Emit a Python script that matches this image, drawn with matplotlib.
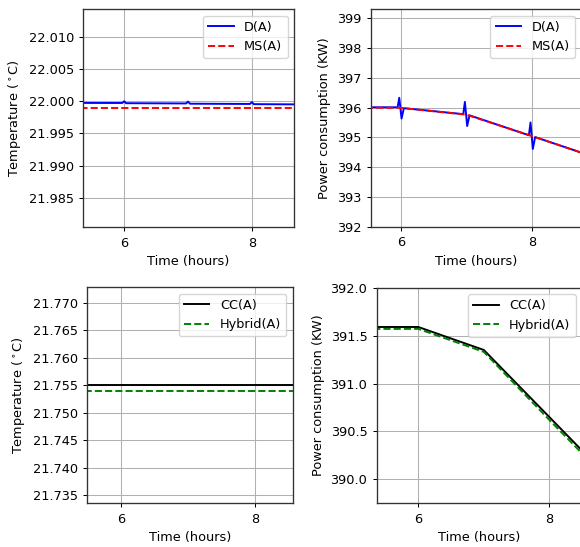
import matplotlib
matplotlib.use("Agg")
import matplotlib.pyplot as plt

# ---- data ----
ms_time = [5.0, 6.0, 7.0, 8.0, 9.0]
ms_temp = [21.9990, 21.9990, 21.9990, 21.9990, 21.9990]
ms_power = [396.00, 395.99, 395.76, 395.04, 394.30]

d_temp_time = [5.0, 5.97, 6.0, 6.03, 6.97, 7.0, 7.03, 7.97, 8.0, 8.03, 9.0]
d_temp = [21.99975, 21.99973, 22.00000, 21.99970, 21.99966, 21.99995, 21.99962,
          21.99958, 21.99987, 21.99955, 21.99950]

d_power_time = [5.0, 5.95, 5.975, 6.01, 6.045, 6.95, 6.975, 7.01, 7.045,
                7.95, 7.975, 8.01, 8.045, 9.0]
d_power = [396.01, 396.01, 396.33, 395.63, 395.98, 395.78, 396.19, 395.38, 395.74,
           395.07, 395.50, 394.61, 395.01, 394.30]

cc_time = [5.0, 6.0, 7.0, 8.0, 9.0]
cc_temp = [21.7550, 21.7550, 21.7550, 21.7550, 21.7550]
cc_power = [391.59, 391.59, 391.35, 390.65, 389.95]

hy_time = [5.0, 6.0, 7.0, 8.0, 9.0]
hy_temp = [21.7540, 21.7540, 21.7540, 21.7540, 21.7540]
hy_power = [391.57, 391.57, 391.33, 390.62, 389.92]

s = 0.925
plt.rcParams.update({
    'font.size': 10 * s,
    'axes.linewidth': 0.8 * s * 1.3,
    'axes.edgecolor': '#333333',
    'xtick.major.width': 0.8 * s,
    'ytick.major.width': 0.8 * s,
    'xtick.major.size': 3.5 * s,
    'ytick.major.size': 3.5 * s,
    'grid.linewidth': 0.8 * s,
})

fig = plt.figure(figsize=(5.8, 5.47), dpi=100)
W, H = 580.0, 547.0

def ax_at(x0, y0, x1, y1):
    return fig.add_axes([x0 / W, 1 - y1 / H, (x1 - x0) / W, (y1 - y0) / H])

temp_label = r'Temperature ($^\circ$C)'
power_label = 'Power consumption (KW)'
lw = 1.5 * s

# top-left
ax1 = ax_at(83.3, 9.3, 294, 227.3)
ax1.plot(d_temp_time, d_temp, color='blue', lw=lw, label='D(A)')
ax1.plot(ms_time, ms_temp, color='red', lw=lw, ls='--', label='MS(A)')
ax1.set_xlim(5.36, 8.66)
ax1.set_ylim(21.9804, 22.0143)
ax1.set_xticks([6, 8])
ax1.set_yticks([21.985, 21.990, 21.995, 22.000, 22.005, 22.010])
ax1.ticklabel_format(axis='y', useOffset=False)
ax1.set_ylabel(temp_label)
ax1.set_xlabel('Time (hours)')
ax1.grid(True)
ax1.legend(loc='upper right')

# top-right
ax2 = ax_at(370.7, 9.3, 581.4, 226.7)
ax2.plot(d_power_time, d_power, color='blue', lw=lw, label='D(A)')
ax2.plot(ms_time, ms_power, color='red', lw=lw, ls='--', label='MS(A)')
ax2.set_xlim(5.54, 8.75)
ax2.set_ylim(392.0, 399.3)
ax2.set_xticks([6, 8])
ax2.set_yticks([392, 393, 394, 395, 396, 397, 398, 399])
ax2.set_ylabel(power_label)
ax2.set_xlabel('Time (hours)')
ax2.grid(True)
ax2.legend(loc='upper right')

# bottom-left
ax3 = ax_at(87.3, 287.3, 292.7, 503.3)
ax3.plot(cc_time, cc_temp, color='black', lw=lw, label='CC(A)')
ax3.plot(hy_time, hy_temp, color='green', lw=lw, ls='--', label='Hybrid(A)')
ax3.set_xlim(5.50, 8.56)
ax3.set_ylim(21.7335, 21.7728)
ax3.set_xticks([6, 8])
ax3.set_yticks([21.735, 21.740, 21.745, 21.750, 21.755, 21.760, 21.765, 21.770])
ax3.ticklabel_format(axis='y', useOffset=False)
ax3.set_ylabel(temp_label)
ax3.set_xlabel('Time (hours)')
ax3.grid(True)
ax3.legend(loc='upper right')

# bottom-right
ax4 = ax_at(376.7, 287.7, 582.1, 503.3)
ax4.plot(cc_time, cc_power, color='black', lw=lw, label='CC(A)')
ax4.plot(hy_time, hy_power, color='green', lw=lw, ls='--', label='Hybrid(A)')
ax4.set_xlim(5.365, 8.50)
ax4.set_ylim(389.75, 392.0)
ax4.set_xticks([6, 8])
ax4.set_yticks([390.0, 390.5, 391.0, 391.5, 392.0])
ax4.set_ylabel(power_label)
ax4.set_xlabel('Time (hours)')
ax4.grid(True)
ax4.legend(loc='upper right')

fig.savefig('out.png', dpi=100)
